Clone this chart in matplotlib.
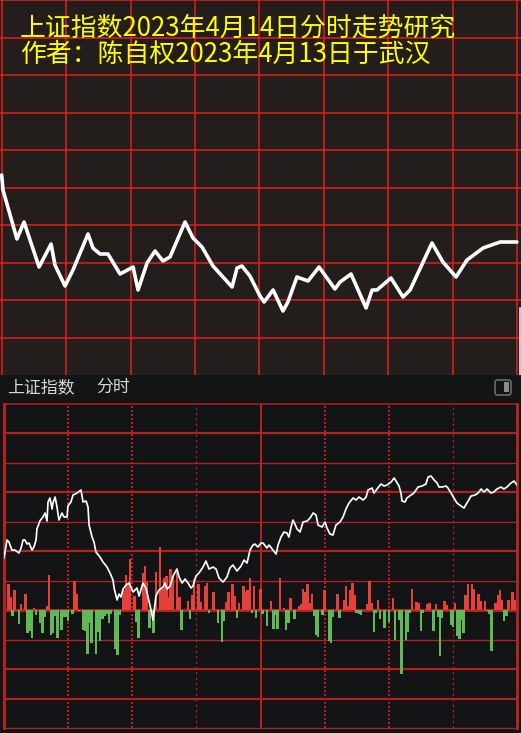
import numpy as np
import matplotlib
matplotlib.use("Agg")
import matplotlib.pyplot as plt
from matplotlib.patches import FancyBboxPatch, Rectangle

plt.rcParams['font.family'] = ['Noto Sans CJK SC', 'DejaVu Sans']

#---------------------------------------------
#data
#---------------------------------------------
title_1 = "上证指数2023年4月14日分时走势研究"
title_2 = "作者：陈自权2023年4月13日于武汉"
header_name = "上证指数"
header_mode = "分时"

#forecast curve (top panel), minute of session / index level
fc_minutes = [0, 0.6, 7.1, 10.4, 17.4, 23.0, 24.8, 29.5, 33.2, 40.2, 42.5, 45.8, 49.5,
              55.1, 61.2, 63.5, 67.7, 71.4, 75.1, 78.4, 85.4, 89.1, 93.3, 98.4, 107.3,
              109.6, 111.9, 115.6, 120.3, 122.2, 126.4, 131.0, 133.3, 137.5, 142.7,
              147.8, 155.2, 157.6, 162.7, 169.7, 172.5, 174.8, 181.3, 186.9, 190.2,
              200.4, 205.5, 211.6, 216.7, 224.2, 232.1, 240.0]
fc_values = [3320.0, 3317.0, 3307.2, 3310.6, 3301.6, 3306.2, 3302.0, 3297.8, 3301.0,
             3308.2, 3305.4, 3304.2, 3304.2, 3300.2, 3301.6, 3297.0, 3302.4, 3304.8,
             3302.8, 3303.6, 3310.6, 3307.4, 3305.6, 3301.8, 3297.6, 3301.4, 3301.8,
             3299.8, 3295.8, 3294.6, 3297.0, 3292.8, 3294.6, 3299.6, 3298.8, 3301.6,
             3297.2, 3298.6, 3300.2, 3293.4, 3297.0, 3297.0, 3299.4, 3295.6, 3297.0,
             3306.4, 3302.6, 3299.6, 3303.0, 3305.4, 3306.6, 3306.6]

#actual intraday index (bottom panel)
px_minutes = [0, 1.4, 2.3, 3.7, 5.1, 7.0, 8.0, 8.9, 9.8, 10.8, 11.7, 13.1, 14.0, 15.0,
              15.4, 16.8, 18.2, 19.2, 20.1, 20.6, 21.5, 22.5, 22.9, 23.9, 24.8, 25.7,
              27.1, 28.1, 29.5, 29.9, 31.3, 32.3, 34.2, 36.0, 37.0, 38.4, 39.3, 39.8,
              41.2, 42.1, 43.0, 44.9, 46.3, 48.2, 49.6, 51.0, 51.5, 52.9, 53.8, 54.7,
              55.7, 57.1, 58.5, 60.4, 62.2, 63.2, 65.0, 66.4, 67.4, 68.8, 69.7, 71.1,
              72.5, 74.4, 75.3, 76.3, 77.7, 79.1, 80.9, 81.9, 83.3, 84.7, 86.1, 87.5,
              88.4, 89.8, 91.2, 93.1, 94.5, 95.9, 97.8, 99.2, 100.6, 102.5, 104.3,
              105.7, 107.1, 109.0, 110.9, 112.3, 113.7, 115.1, 116.5, 117.4, 118.8,
              120.2, 121.2, 123.0, 124.0, 125.8, 127.3, 128.2, 129.6, 131.0, 132.4,
              133.3, 134.3, 135.2, 136.1, 137.1, 138.5, 139.9, 141.8, 143.2, 144.6,
              146.0, 146.9, 148.8, 150.2, 151.1, 152.5, 153.9, 155.3, 157.2, 158.6,
              160.0, 161.4, 163.3, 164.7, 166.1, 168.0, 169.4, 170.3, 172.2, 173.1,
              174.5, 176.4, 177.8, 179.2, 181.1, 182.5, 183.4, 184.8, 185.7, 186.2,
              187.6, 188.5, 190.4, 191.8, 193.7, 195.6, 197.4, 198.4, 199.8, 201.2,
              202.6, 203.5, 204.9, 206.8, 207.7, 209.1, 211.9, 213.8, 215.2, 216.6,
              218.5, 220.4, 221.8, 223.2, 224.6, 226.0, 227.8, 229.2, 230.6, 232.5,
              233.9, 235.3, 237.2, 238.6, 240.0]
px_values = [3327.0, 3330.6, 3330.2, 3328.6, 3328.6, 3328.0, 3329.0, 3330.6, 3330.6,
             3329.8, 3330.0, 3328.6, 3329.2, 3330.6, 3332.8, 3334.4, 3335.2, 3336.0,
             3334.4, 3338.2, 3339.0, 3336.8, 3338.0, 3339.2, 3337.2, 3334.6, 3336.0,
             3335.2, 3335.2, 3337.4, 3338.2, 3339.6, 3340.0, 3340.6, 3338.2, 3338.4,
             3337.2, 3333.6, 3331.2, 3330.2, 3328.2, 3327.2, 3326.2, 3325.2, 3324.0,
             3322.6, 3321.0, 3318.6, 3319.8, 3319.2, 3320.8, 3321.6, 3322.0, 3320.2,
             3321.0, 3319.4, 3322.0, 3321.0, 3319.2, 3316.6, 3314.6, 3319.4, 3320.6,
             3321.2, 3322.0, 3320.8, 3321.4, 3323.4, 3324.8, 3323.2, 3322.0, 3322.8,
             3322.0, 3321.0, 3321.4, 3323.4, 3324.0, 3325.2, 3326.4, 3324.8, 3325.2,
             3324.8, 3323.0, 3322.2, 3323.2, 3325.0, 3325.6, 3324.4, 3325.4, 3326.6,
             3326.0, 3328.6, 3329.6, 3329.8, 3329.2, 3330.0, 3330.0, 3329.0, 3329.6,
             3328.6, 3327.8, 3329.6, 3331.2, 3332.2, 3332.0, 3331.2, 3333.2, 3334.6,
             3333.8, 3332.8, 3332.2, 3334.2, 3334.4, 3335.0, 3336.0, 3335.6, 3333.6,
             3333.2, 3334.2, 3333.0, 3331.8, 3331.6, 3333.6, 3334.2, 3335.2, 3336.8,
             3338.0, 3339.0, 3338.6, 3339.2, 3338.6, 3339.2, 3340.6, 3341.0, 3340.0,
             3340.8, 3341.8, 3341.4, 3341.6, 3342.2, 3343.0, 3342.4, 3341.4, 3340.0,
             3338.4, 3338.2, 3339.0, 3339.6, 3340.0, 3341.2, 3341.4, 3341.8, 3343.2,
             3343.4, 3342.6, 3342.0, 3341.2, 3341.2, 3341.4, 3341.0, 3340.0, 3338.0,
             3337.4, 3337.0, 3338.0, 3339.4, 3339.6, 3340.0, 3340.8, 3340.2, 3340.8,
             3340.0, 3340.2, 3340.8, 3341.2, 3340.8, 3341.2, 3342.0, 3342.4, 3341.6]

#strength bars, red = up, green = down
up_minutes = [0, 2, 3, 5, 8, 10, 14, 20, 21, 33, 34, 56, 57, 58, 59, 61, 65, 66, 67, 71,
              73, 74, 75, 76, 77, 78, 79, 81, 82, 86, 88, 89, 91, 92, 94, 95, 98, 104,
              105, 107, 108, 110, 112, 113, 114, 115, 117, 120, 125, 129, 131, 134, 138,
              139, 140, 141, 142, 143, 144, 150, 156, 159, 160, 161, 162, 163, 164, 170,
              171, 172, 175, 182, 191, 193, 194, 198, 199, 202, 206, 207, 211, 216, 217,
              219, 220, 222, 223, 225, 230, 231, 232, 233, 236, 238, 239]
up_values = [24, 26, 13, 20, 6, 16, 2, 4, 35, 29, 16, 20, 35, 26, 51, 14, 37, 44, 28, 38,
             63, 21, 32, 34, 13, 41, 34, 38, 13, 9, 15, 31, 26, 8, 24, 27, 18, 8,
             18, 26, 14, 7, 24, 18, 20, 32, 24, 21, 9, 32, 2, 12, 4,
             6, 21, 18, 26, 7, 16, 20, 16, 10, 24, 4, 20, 27, 15, 6,
             29, 7, 10, 12, 21, 8, 7, 6, 7, 6, 9, 5, 7, 15, 26,
             26, 21, 16, 9, 9, 7, 15, 20, 10, 10, 18, 10]
down_minutes = [4, 7, 11, 12, 13, 15, 17, 18, 19, 22, 23, 24, 25, 27, 28, 29, 30, 32, 35,
                37, 38, 39, 40, 41, 43, 44, 45, 46, 47, 48, 49, 50, 52, 53, 54, 62, 63,
                68, 70, 83, 87, 96, 100, 102, 103, 109, 116, 118, 121, 123, 126, 127,
                128, 132, 133, 136, 145, 146, 147, 149, 152, 153, 154, 157, 165, 166,
                167, 173, 174, 176, 178, 180, 183, 185, 186, 188, 189, 190, 195, 196,
                201, 203, 204, 205, 209, 210, 212, 213, 214, 215, 226, 227, 228, 234,
                235, 240]
down_values = [6, 14, 23, 21, 28, 5, 13, 23, 7, 25, 23, 6, 28, 20, 7, 7, 11, 4, 1,
               20, 21, 44, 13, 33, 44, 22, 31, 9, 6, 4, 13, 4, 39, 45, 5, 12, 28,
               18, 23, 20, 9, 3, 13, 32, 11, 8, 3, 8, 4, 16, 19, 5,
               19, 20, 13, 9, 6, 25, 27, 5, 31, 33, 7, 8, 3, 4,
               5, 22, 3, 9, 18, 12, 30, 10, 64, 30, 22, 3, 21, 3,
               21, 7, 46, 8, 15, 17, 26, 29, 10, 23, 1, 4, 41, 11,
               6, 10]

#---------------------------------------------
#colours
#---------------------------------------------
TOP_BG = '#231d1c'
TOP_GRID = '#e3201c'
BOT_BG = '#131416'
BOT_GRID = '#b3221f'
BAR_UP = '#e5413b'
BAR_DN = '#5fb955'

W, H = 521, 733
PX = 0.72  # pixel -> point at dpi 100

def rect(x0, y0, x1, y1):
	return [x0 / W, 1 - y1 / H, (x1 - x0) / W, (y1 - y0) / H]

fig = plt.figure(figsize=(W / 100, H / 100), dpi=100)
fig.patch.set_facecolor(BOT_BG)

#---------------------------------------------
#top panel: forecast
#---------------------------------------------
ax_t = fig.add_axes(rect(0, 0, W, 375))
ax_t.set_facecolor(TOP_BG)
ax_t.set_xlim(-0.79, 241.86)
ax_t.set_ylim(3280, 3355)
for m in range(0, 241, 30):
	ax_t.axvline(m, color=TOP_GRID, lw=1.5 * PX, zorder=1)
for v in np.arange(3287.5, 3356, 7.5):
	ax_t.axhline(v, color=TOP_GRID, lw=1.5 * PX, zorder=1, clip_on=False)
ax_t.plot(fc_minutes, fc_values, color='white', lw=3.6 * PX,
	solid_joinstyle='round', solid_capstyle='round', zorder=3)
ax_t.axvline(241.2, ymin=0, ymax=0.18, color='white', lw=1.5 * PX, zorder=3)
ax_t.set_xticks([])
ax_t.set_yticks([])
for s in ax_t.spines.values():
	s.set_visible(False)

fig.text(20 / W, 1 - 28 / H, title_1, color='#ffff00', fontsize=18.6,
	ha='left', va='center')
fig.text(20 / W, 1 - 54 / H, title_2, color='#ffff00', fontsize=18.6,
	ha='left', va='center')

#---------------------------------------------
#header strip
#---------------------------------------------
fig.text(7 / W, 1 - 387 / H, header_name, color='#d8d8d8', fontsize=12.2,
	ha='left', va='center')
fig.text(96 / W, 1 - 387 / H, header_mode, color='#d8d8d8', fontsize=12.2,
	ha='left', va='center')
icon = FancyBboxPatch((495 / W, 1 - 395 / H), 16 / W, 15 / H,
	boxstyle='round,pad=0,rounding_size=0.004', transform=fig.transFigure,
	facecolor='none', edgecolor='#6c6c6c', lw=1.6 * PX)
fig.patches.append(icon)
fig.patches.append(Rectangle((504 / W, 1 - 392 / H), 5 / W, 10 / H,
	transform=fig.transFigure, facecolor='#8a8a8a', edgecolor='none'))

#---------------------------------------------
#bottom panel: intraday
#---------------------------------------------
ax_b = fig.add_axes(rect(4, 404, 517, 728))
ax_b.set_facecolor(BOT_BG)
row = 29.45
ax_b.set_ylim(-4 * row, 7 * row)
ax_b.set_xlim(0, 240)

row_widths = [1.5, 2.2, 1.3, 2.2, 1.3, 2.2, 1.3, 3, 1.3, 2.2, 2.2, 1.3]
for k, lw in enumerate(row_widths):
	ax_b.axhline(7 * row - k * row, color=BOT_GRID, lw=lw * PX, zorder=1, clip_on=False)
for m in [30, 60, 150, 180]:
	ax_b.axvline(m, color=BOT_GRID, lw=2 * PX, ls=(0, (1, 1)), zorder=1)
for m in [90, 210]:
	ax_b.axvline(m, color=BOT_GRID, lw=1.2 * PX, ls=(0, (2, 2.5)), zorder=1)
ax_b.axvline(120, color=BOT_GRID, lw=2 * PX, zorder=1)
ax_b.axvline(0, color=BOT_GRID, lw=3 * PX, zorder=4, clip_on=False)
ax_b.axvline(240, color=BOT_GRID, lw=3 * PX, zorder=4, clip_on=False)

ax_b.bar(up_minutes, up_values, width=1.15, color=BAR_UP, lw=0, zorder=2)
ax_b.bar(down_minutes, -np.array(down_values), width=1.15, color=BAR_DN, lw=0, zorder=2)
ax_b.set_xticks([])
ax_b.set_yticks([])
for s in ax_b.spines.values():
	s.set_visible(False)

ax_p = ax_b.twinx()
ax_p.set_ylim(3357.8 - 11 * 5.89, 3357.8)
ax_p.plot(px_minutes, px_values, color='white', lw=1.7 * PX, zorder=3)
ax_p.set_xticks([])
ax_p.set_yticks([])
for s in ax_p.spines.values():
	s.set_visible(False)

fig.savefig('out.png', dpi=100, facecolor=fig.get_facecolor())
